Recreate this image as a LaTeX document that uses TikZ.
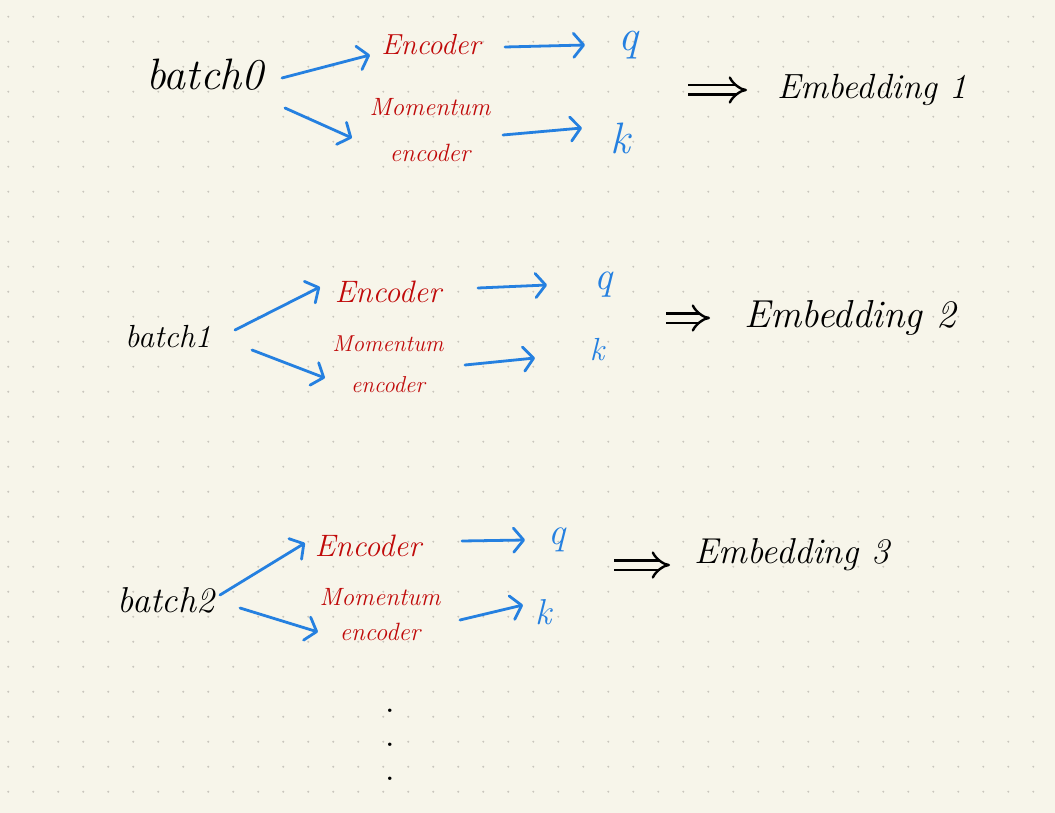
\documentclass[tikz,border=0pt]{standalone}
\usetikzlibrary{arrows.meta}
\definecolor{bgc}{HTML}{F7F5EA}
\definecolor{dotc}{HTML}{C9C6BD}
\definecolor{redc}{HTML}{C00A0A}
\definecolor{bluec}{HTML}{2580E0}
\newcommand\myfs[1]{\fontsize{#1}{#1}\selectfont}
\begin{document}
\begin{tikzpicture}[x=1pt,y=-1pt,
  lbl/.style={font=\itshape, inner sep=0pt},
  batchlbl/.style={lbl, text=black},
  enclbl/.style={lbl, text=redc, align=center},
  outlbl/.style={lbl, text=bluec},
  emblbl/.style={lbl, text=black},
  bluearrow/.style={draw=bluec, line width=2.8pt, line cap=round,
    -{Straight Barb[length=10pt,width=24pt,line width=2.8pt,round]}},
  implies/.style={draw=black, double=bgc, double distance=7pt, line width=2.4pt,
    -{Implies[scale=1.3]}}
]
\fill[bgc] (0,0) rectangle (1055,813);
\useasboundingbox (0,0) rectangle (1055,813);
\foreach \i in {0,...,41}{
  \foreach \j in {0,...,32}{
    \fill[dotc] (8.3+25*\i,16.7+25*\j) circle (1.1pt);
  }
}
% ---------- row 0 ----------
\node[batchlbl, font=\itshape\myfs{44}] (b0) at (205,75) {batch0};
\node[enclbl, font=\itshape\myfs{29}] (e0) at (431,45) {Encoder};
\node[enclbl, font=\itshape\fontsize{25}{46}\selectfont] (m0) at (430,130) {Momentum\\encoder};
\node[outlbl, font=\itshape\myfs{44}] (q0) at (628,45) {q};
\node[outlbl, font=\itshape\myfs{44}] (k0) at (620,138) {k};
\node[emblbl, font=\itshape\myfs{35}] (emb0) at (872,90) {Embedding 1};
\coordinate (i0) at (688,90);
\draw[bluearrow] ([shift={(77,3)}]b0.center) -- ([shift={(-61,10)}]e0.center);
\draw[bluearrow] ([shift={(80,33)}]b0.center) -- ([shift={(-78,8)}]m0.center);
\draw[bluearrow] ([shift={(74,2)}]e0.center) -- ([shift={(-43,0)}]q0.center);
\draw[bluearrow] ([shift={(73,5)}]m0.center) -- ([shift={(-38,-10)}]k0.center);
\draw[implies] (i0) -- ([xshift=-125]emb0.center);
% ---------- row 1 ----------
\node[batchlbl, font=\itshape\myfs{32}] (b1) at (168,337) {batch1};
\node[enclbl, font=\itshape\myfs{31}] (e1) at (388,292) {Encoder};
\node[enclbl, font=\itshape\fontsize{23}{41}\selectfont] (m1) at (388,364) {Momentum\\encoder};
\node[outlbl, font=\itshape\myfs{40}] (q1) at (603,285) {q};
\node[outlbl, font=\itshape\myfs{32}] (k1) at (597,350) {k};
\node[emblbl, font=\itshape\myfs{39}] (emb1) at (850,318) {Embedding 2};
\coordinate (i1) at (666,318);
\draw[bluearrow] ([shift={(67,-7)}]b1.center) -- ([shift={(-68,-5)}]e1.center);
\draw[bluearrow] ([shift={(84,13)}]b1.center) -- ([shift={(-63,14)}]m1.center);
\draw[bluearrow] ([shift={(90,-4)}]e1.center) -- ([shift={(-56,0)}]q1.center);
\draw[bluearrow] ([shift={(77,1)}]m1.center) -- ([shift={(-62,8)}]k1.center);
\draw[implies] (i1) -- ([xshift=-140]emb1.center);
% ---------- row 2 ----------
\node[batchlbl, font=\itshape\myfs{36}] (b2) at (166,600) {batch2};
\node[enclbl, font=\itshape\myfs{31}] (e2) at (368,546) {Encoder};
\node[enclbl, font=\itshape\fontsize{25}{35}\selectfont] (m2) at (380,615) {Momentum\\encoder};
\node[outlbl, font=\itshape\myfs{38}] (q2) at (557,540) {q};
\node[outlbl, font=\itshape\myfs{36}] (k2) at (544,612) {k};
\node[emblbl, font=\itshape\myfs{36}] (emb2) at (792,555) {Embedding 3};
\coordinate (i2) at (614,565);
\draw[bluearrow] ([shift={(54,-5)}]b2.center) -- ([shift={(-63,-3)}]e2.center);
\draw[bluearrow] ([shift={(74,8)}]b2.center) -- ([shift={(-62,17)}]m2.center);
\draw[bluearrow] ([shift={(94,-5)}]e2.center) -- ([shift={(-32,0)}]q2.center);
\draw[bluearrow] ([shift={(80,5)}]m2.center) -- ([shift={(-21,-7)}]k2.center);
\draw[implies] (i2) -- ([shift={(-122,10)}]emb2.center);
% ---------- ellipsis ----------
\node[lbl, font=\upshape\bfseries\fontsize{24}{34}\selectfont, align=center] (more) at (390,745) {.\\.\\.};
\end{tikzpicture}
\end{document}
